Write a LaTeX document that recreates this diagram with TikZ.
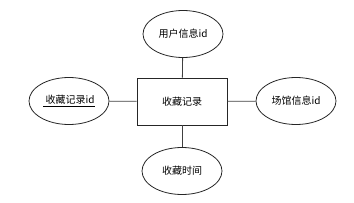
\documentclass[tikz,border=0pt]{standalone}
\usepackage{fontspec}
\setmainfont{Noto Sans CJK SC}
\usetikzlibrary{shapes.geometric}
\begin{document}
\begin{tikzpicture}[x=1pt,y=1pt,
  attr/.style={draw=black!85,line width=0.8pt,ellipse,minimum width=80pt,minimum height=47pt,inner sep=0pt,font=\fontsize{10}{12}\selectfont},
  ent/.style={draw=black!85,line width=0.8pt,rectangle,minimum width=90pt,minimum height=47pt,inner sep=0pt,font=\fontsize{10}{12}\selectfont},
  conn/.style={draw=black!75,line width=0.8pt}]
\useasboundingbox (0,0) rectangle (354,202);
\node[ent] (e) at (182,100.5) {收藏记录};
\node[attr] (u) at (183,168) {用户信息id};
\node[attr] (t) at (182,31) {收藏时间};
\node[attr] (l) at (69,101) {\underline{\ 收藏记录id}};
\node[attr] (r) at (296,101) {场馆信息id};
\draw[conn] (u) -- (e);
\draw[conn] (e) -- (t);
\draw[conn] (l) -- (e);
\draw[conn] (e) -- (r);
\end{tikzpicture}
\end{document}
